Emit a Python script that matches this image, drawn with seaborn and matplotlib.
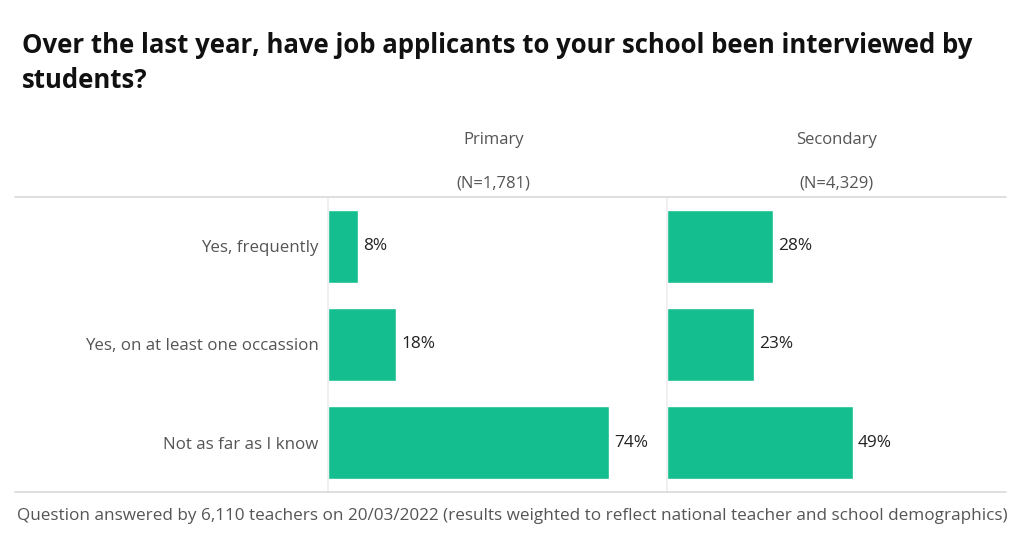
import matplotlib
matplotlib.use("Agg")
import matplotlib.pyplot as plt
import seaborn as sns
import pandas as pd

categories = ["Yes, frequently", "Yes, on at least one occassion", "Not as far as I know"]
primary = [8, 18, 74]
secondary = [28, 23, 49]
groups = ["Primary", "Secondary"]
group_n = ["(N=1,781)", "(N=4,329)"]
title = "Over the last year, have job applicants to your school been interviewed by\nstudents?"
footer = "Question answered by 6,110 teachers on 20/03/2022 (results weighted to reflect national teacher and school demographics)"

sns.set_theme(style="white")
plt.rcParams['font.family'] = ['Open Sans', 'DejaVu Sans']

GREEN = "#14BE8E"
GRID = "#D9D9D9"
W, H = 1024, 546
fig = plt.figure(figsize=(W / 100, H / 100), dpi=100)

def box(x0, x1, y0, y1):
    return [x0 / W, 1 - y1 / H, (x1 - x0) / W, (y1 - y0) / H]

top, bottom = 197, 492
scale = 3.8  # px per percent
ax1 = fig.add_axes(box(328, 659, top, bottom))
ax2 = fig.add_axes(box(667, 1006, top, bottom))

for ax, vals, g, n in zip([ax1, ax2], [primary, secondary], groups, group_n):
    df = pd.DataFrame({"cat": categories, "val": vals})
    sns.barplot(data=df, x="val", y="cat", orient="h", color=GREEN, width=0.74,
                saturation=1, ax=ax)
    bb = ax.get_position()
    ax.set_xlim(0, bb.width * W / scale)
    ax.set_ylim(2.5, -0.5)
    for i, v in enumerate(vals):
        ax.text(v + 1.2, i, f"{v}%", va="center", ha="left", fontsize=12.4, color="#222222")
    for s in ["top", "right", "bottom"]:
        ax.spines[s].set_visible(False)
    ax.spines["left"].set_color("#EEEEEE")
    ax.spines["left"].set_linewidth(1.2)
    ax.set_xticks([])
    ax.set_xlabel("")
    ax.set_ylabel("")
    ax.tick_params(axis="y", length=0, pad=7, labelsize=12.2, labelcolor="#555555")
    ax.text(0.5, (top - 140) / (bottom - top) + 1, g, transform=ax.transAxes,
            ha="center", va="center", fontsize=12, color="#555555")
    ax.text(0.5, (top - 183) / (bottom - top) + 1, n, transform=ax.transAxes,
            ha="center", va="center", fontsize=12, color="#555555")

ax2.set_yticklabels([])

# horizontal rules
for y in [top, bottom]:
    fig.add_artist(plt.Line2D([15 / W, 1006 / W], [1 - y / H, 1 - y / H],
                              color=GRID, lw=1.2, transform=fig.transFigure))

fig.text(22 / W, 1 - 63 / H, title, ha="left", va="center", fontsize=18.5,
         fontweight="bold", color="#111111", linespacing=1.42)
fig.text(17 / W, 1 - 516 / H, footer, ha="left", va="center", fontsize=12.3, color="#555555")

fig.savefig("out.png", dpi=100)
